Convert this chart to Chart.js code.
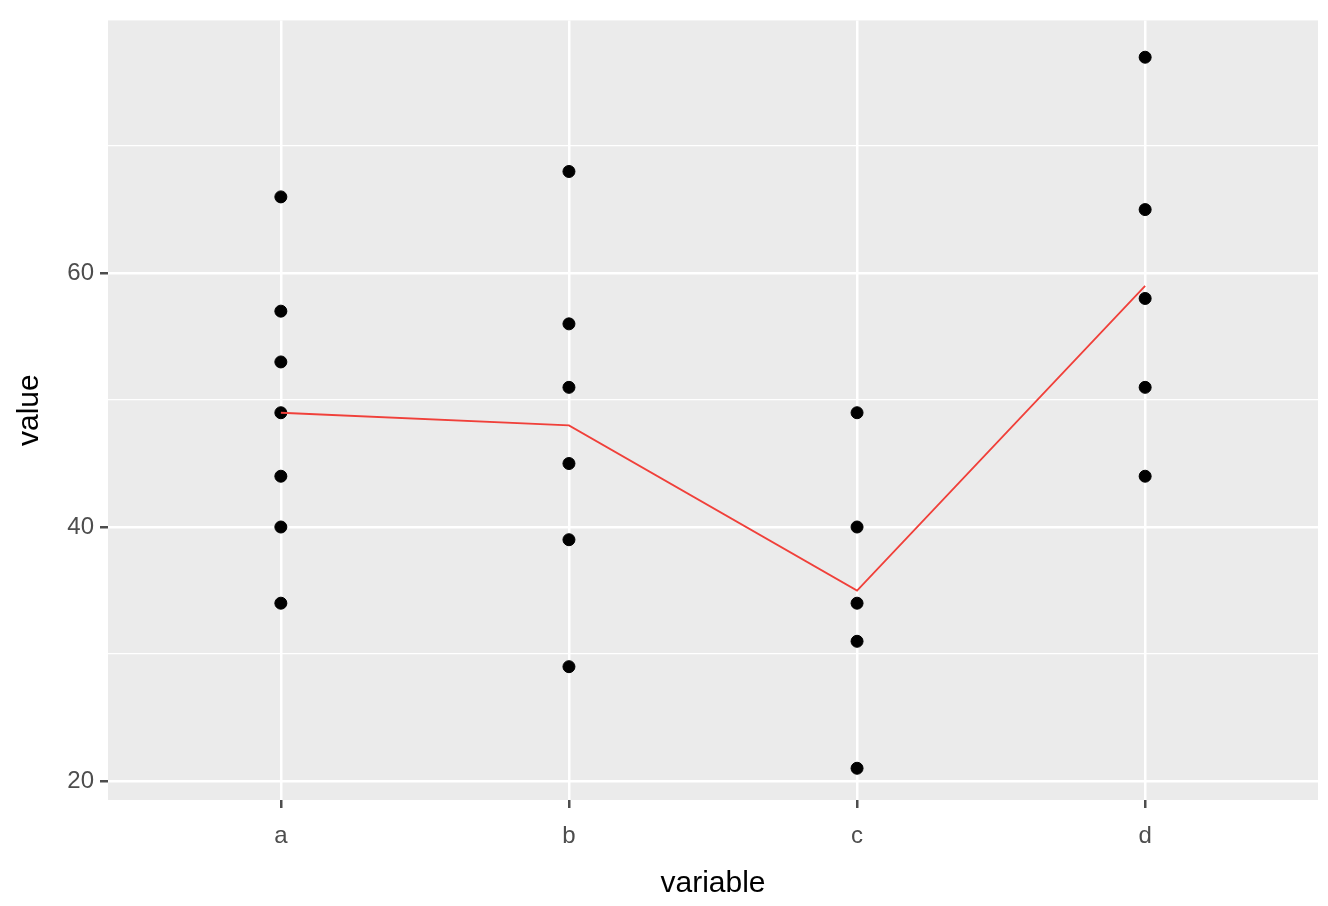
<!DOCTYPE html>
<html><head><meta charset="utf-8">
<script src="https://cdn.jsdelivr.net/npm/chart.js@4"></script>
<style>html,body{margin:0;padding:0;background:#fff}#w{width:1328px;height:906px}</style>
</head><body><div id="w"><canvas id="c"></canvas></div>
<script>
const categories = ['a','b','c','d'];
const valuesA = [66,57,53,49,44,40,34];
const valuesB = [68,56,51,45,39,29];
const valuesC = [49,40,34,31,21];
const valuesD = [77,65,58,51,44];
const meanValues = [49,48,35,59];
const yTicks = [20,30,40,50,60,70];
const yLabels = [20,40,60];

const groups = [valuesA,valuesB,valuesC,valuesD];
const pts = [];
groups.forEach((g,i)=>g.forEach(v=>pts.push({x:i+1,y:v})));
const line = meanValues.map((v,i)=>({x:i+1,y:v}));

const bg = {id:'bg',beforeDraw(ch){const a=ch.chartArea,c=ch.ctx;c.save();c.fillStyle='#ebebeb';c.fillRect(a.left,a.top,a.right-a.left,a.bottom-a.top);c.restore();}};

new Chart(document.getElementById('c'),{
  type:'scatter',
  data:{datasets:[
    {type:'line',data:line,borderColor:'#f0403a',borderWidth:1.8,pointRadius:0,fill:false,order:1},
    {data:pts,backgroundColor:'#000',borderColor:'#000',pointRadius:6,pointHoverRadius:6,order:2}
  ]},
  options:{
    responsive:true,maintainAspectRatio:false,animation:false,devicePixelRatio:1,
    layout:{padding:{top:9,right:10,left:8,bottom:0}},
    plugins:{legend:{display:false},tooltip:{enabled:false}},
    scales:{
      x:{type:'linear',min:0.4,max:4.6,
        afterBuildTicks(s){s.ticks=[1,2,3,4].map(v=>({value:v}));},
        afterFit(s){s.height=106;},
        border:{display:false},
        grid:{color:'#ffffff',lineWidth:2.5,tickLength:8,tickColor:'#4d4d4d'},
        ticks:{callback:v=>categories[v-1],color:'#4d4d4d',font:{size:24,family:'Liberation Sans'},padding:14},
        title:{display:true,text:'variable',color:'#000',font:{size:30,family:'Liberation Sans'},padding:{top:0}}
      },
      y:{min:18.5,max:79.9,
        afterBuildTicks(s){s.ticks=yTicks.map(v=>({value:v}));},
        afterFit(s){s.width=100;},
        border:{display:false},
        grid:{color:'#ffffff',lineWidth:c=>yLabels.includes(c.tick&&c.tick.value)?2.5:1.3,tickLength:8,
          tickColor:c=>yLabels.includes(c.tick&&c.tick.value)?'#4d4d4d':'rgba(0,0,0,0)'},
        ticks:{callback:v=>yLabels.includes(v)?String(v):'',color:'#4d4d4d',font:{size:24,family:'Liberation Sans'},padding:6},
        title:{display:true,text:'value',color:'#000',font:{size:30,family:'Liberation Sans'},padding:{bottom:6}}
      }
    }
  },
  plugins:[bg]
});
</script></body></html>
